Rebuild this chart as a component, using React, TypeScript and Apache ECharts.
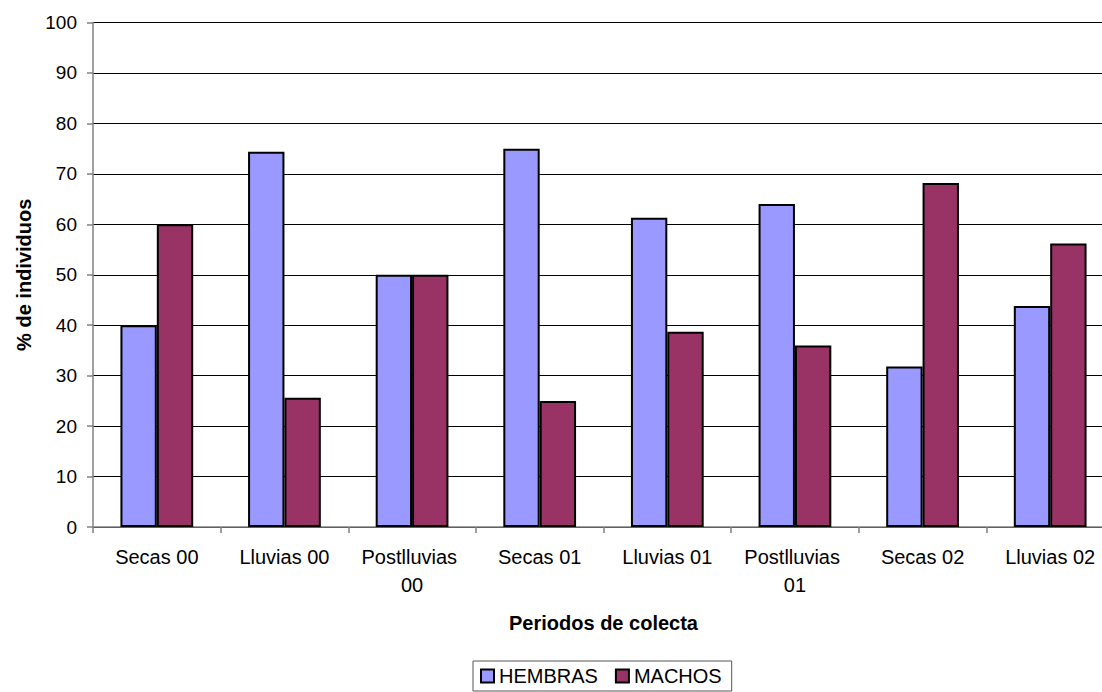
import React, { useEffect, useRef } from "react";
import * as echarts from "echarts";

const categories = [
  "Secas 00",
  "Lluvias 00",
  "Postlluvias 00",
  "Secas 01",
  "Lluvias 01",
  "Postlluvias 01",
  "Secas 02",
  "Lluvias 02",
];
const hembras = [40, 74.4, 50, 75, 61.3, 64, 31.8, 43.8];
const machos = [60, 25.6, 50, 25, 38.7, 36, 68.2, 56.2];
const yTicks = { min: 0, max: 100, interval: 10 };

const FONT = "'Liberation Sans', Arial, sans-serif";

export default function App() {
  const ref = useRef<HTMLDivElement>(null);
  useEffect(() => {
    if (!ref.current) return;
    const chart = echarts.init(ref.current, undefined, { renderer: "svg" });
    chart.setOption({
      animation: false,
      backgroundColor: "#ffffff",
      textStyle: { fontFamily: FONT, color: "#000" },
      grid: { left: 93, right: 0, top: 22.5, bottom: 165, containLabel: false },
      legend: {
        left: 473,
        top: 661,
        orient: "horizontal",
        padding: [5, 10, 5, 7],
        itemGap: 17,
        itemWidth: 13,
        itemHeight: 13,
        icon: "rect",
        borderColor: "#555",
        borderWidth: 1,
        textStyle: { fontFamily: FONT, fontSize: 20, color: "#000" },
        data: ["HEMBRAS", "MACHOS"],
      },
      xAxis: {
        type: "category",
        data: categories,
        name: "Periodos de colecta",
        nameLocation: "middle",
        nameGap: 86,
        nameTextStyle: { fontFamily: FONT, fontSize: 20, fontWeight: "bold", color: "#000" },
        axisLine: { show: true, lineStyle: { color: "#808080", width: 1.5 } },
        axisTick: { show: true, length: 6, lineStyle: { color: "#808080", width: 1.5 } },
        axisLabel: {
          fontFamily: FONT,
          fontSize: 20,
          color: "#000",
          margin: 16,
          lineHeight: 28,
          width: 115,
          overflow: "break",
          interval: 0,
        },
        splitLine: { show: false },
      },
      yAxis: {
        type: "value",
        min: yTicks.min,
        max: yTicks.max,
        interval: yTicks.interval,
        name: "% de individuos",
        nameLocation: "middle",
        nameGap: 53,
        nameRotate: 90,
        nameTextStyle: { fontFamily: FONT, fontSize: 20, fontWeight: "bold", color: "#000" },
        axisLine: { show: true, lineStyle: { color: "#808080", width: 1.5 } },
        axisTick: { show: true, length: 6, lineStyle: { color: "#808080", width: 1.5 } },
        axisLabel: { fontFamily: FONT, fontSize: 19, color: "#000", margin: 16 },
        splitLine: { show: true, lineStyle: { color: "#000", width: 1 } },
      },
      series: [
        {
          name: "HEMBRAS",
          type: "bar",
          data: hembras,
          barGap: "0%",
          barCategoryGap: "43%",
          itemStyle: { color: "#9999FF", borderColor: "#000", borderWidth: 2 },
        },
        {
          name: "MACHOS",
          type: "bar",
          data: machos,
          barGap: "0%",
          barCategoryGap: "43%",
          itemStyle: { color: "#993366", borderColor: "#000", borderWidth: 2 },
        },
      ],
    });
    return () => chart.dispose();
  }, []);
  return (
    <div
      ref={ref}
      style={{ position: "fixed", left: 0, top: 0, width: 1114, height: 692, background: "#fff" }}
    />
  );
}
